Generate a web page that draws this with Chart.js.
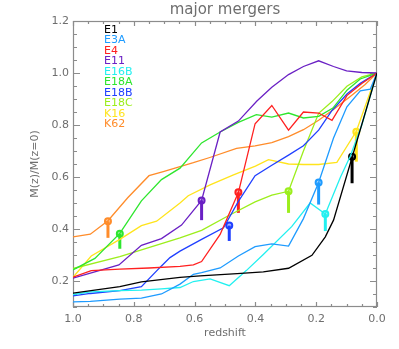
<!DOCTYPE html>
<html>
<head>
<meta charset="utf-8">
<script src="https://cdn.jsdelivr.net/npm/chart.js@4"></script>
<style>
  html, body { margin: 0; padding: 0; background: #fff; }
  canvas { display: block; }
</style>
</head>
<body>
<canvas id="chart" width="399" height="349"></canvas>
<script>
// Simulation names (legend order)
const names = ["E1", "E3A", "E4", "E11", "E16B", "E18A", "E18B", "E18C", "K16", "K62"];

// Redshift / mass ratio, one pair of arrays per run
const E1_z = [1.0, 0.846, 0.775, 0.648, 0.582, 0.46, 0.374, 0.291, 0.214, 0.17, 0.143, 0.082, 0.0];
const E1_m = [0.153, 0.178, 0.197, 0.214, 0.22, 0.228, 0.235, 0.249, 0.299, 0.37, 0.434, 0.675, 1.0];

const E3A_z = [1.0, 0.943, 0.846, 0.775, 0.709, 0.648, 0.604, 0.577, 0.516, 0.456, 0.401, 0.346, 0.291, 0.242, 0.192, 0.143, 0.099, 0.055, 0.022, 0.0];
const E3A_m = [0.12, 0.122, 0.13, 0.134, 0.15, 0.188, 0.226, 0.232, 0.25, 0.296, 0.332, 0.343, 0.334, 0.44, 0.579, 0.75, 0.87, 0.931, 0.938, 1.0];

const E4_z = [1.0, 0.94, 0.846, 0.75, 0.648, 0.604, 0.577, 0.516, 0.456, 0.401, 0.346, 0.291, 0.242, 0.192, 0.148, 0.099, 0.05, 0.0];
const E4_m = [0.215, 0.24, 0.246, 0.25, 0.256, 0.262, 0.275, 0.379, 0.54, 0.805, 0.875, 0.78, 0.85, 0.846, 0.818, 0.913, 0.96, 1.0];

const E11_z = [1.0, 0.849, 0.775, 0.709, 0.643, 0.577, 0.516, 0.456, 0.395, 0.346, 0.291, 0.242, 0.192, 0.143, 0.1, 0.05, 0.0];
const E11_m = [0.211, 0.262, 0.337, 0.363, 0.415, 0.51, 0.773, 0.815, 0.892, 0.945, 0.994, 1.025, 1.047, 1.025, 1.008, 1.002, 1.0];

const E16B_z = [1.0, 0.943, 0.846, 0.775, 0.709, 0.648, 0.604, 0.549, 0.486, 0.43, 0.374, 0.28, 0.22, 0.17, 0.12, 0.088, 0.05, 0.0];
const E16B_m = [0.148, 0.158, 0.163, 0.165, 0.17, 0.175, 0.198, 0.208, 0.182, 0.24, 0.302, 0.41, 0.5, 0.458, 0.6, 0.68, 0.8, 1.0];

const E18A_z = [1.0, 0.928, 0.846, 0.775, 0.709, 0.648, 0.577, 0.516, 0.456, 0.397, 0.346, 0.291, 0.242, 0.192, 0.145, 0.098, 0.055, 0.0];
const E18A_m = [0.243, 0.287, 0.383, 0.508, 0.59, 0.634, 0.731, 0.773, 0.81, 0.84, 0.83, 0.846, 0.827, 0.833, 0.865, 0.935, 0.977, 1.0];

const E18B_z = [1.0, 0.943, 0.846, 0.775, 0.709, 0.681, 0.648, 0.577, 0.505, 0.456, 0.401, 0.346, 0.291, 0.242, 0.192, 0.148, 0.098, 0.055, 0.0];
const E18B_m = [0.143, 0.152, 0.163, 0.178, 0.258, 0.29, 0.315, 0.36, 0.405, 0.506, 0.605, 0.645, 0.684, 0.72, 0.78, 0.856, 0.92, 0.96, 1.0];

const E18C_z = [1.0, 0.846, 0.648, 0.577, 0.489, 0.401, 0.346, 0.291, 0.242, 0.192, 0.148, 0.099, 0.05, 0.0];
const E18C_m = [0.248, 0.294, 0.366, 0.395, 0.451, 0.504, 0.53, 0.545, 0.7, 0.845, 0.89, 0.949, 0.985, 1.0];

const K16_z = [1.0, 0.94, 0.846, 0.775, 0.725, 0.648, 0.621, 0.549, 0.472, 0.4, 0.357, 0.291, 0.242, 0.192, 0.132, 0.068, 0.0];
const K16_m = [0.214, 0.296, 0.36, 0.413, 0.43, 0.5, 0.528, 0.57, 0.608, 0.642, 0.667, 0.65, 0.648, 0.648, 0.656, 0.776, 1.0];

const K62_z = [1.0, 0.943, 0.885, 0.82, 0.75, 0.703, 0.648, 0.604, 0.55, 0.462, 0.401, 0.346, 0.291, 0.242, 0.192, 0.143, 0.088, 0.04, 0.0];
const K62_m = [0.37, 0.38, 0.432, 0.52, 0.605, 0.621, 0.64, 0.655, 0.675, 0.71, 0.72, 0.732, 0.755, 0.782, 0.818, 0.86, 0.91, 0.955, 1.0];

// Merger markers (arrows), same order as names
const arrowZ = [0.082, 0.192, 0.456, 0.577, 0.17, 0.846, 0.486, 0.291, 0.068, 0.885];
const arrowTop = [0.678, 0.579, 0.541, 0.51, 0.458, 0.382, 0.413, 0.545, 0.774, 0.43];
const arrowBottom = [0.576, 0.494, 0.462, 0.434, 0.392, 0.324, 0.354, 0.462, 0.659, 0.366];

// Tick labels
const xTicks = [1.0, 0.8, 0.6, 0.4, 0.2, 0.0];
const yTicks = [0.2, 0.4, 0.6, 0.8, 1.0, 1.2];

const colors = ["#000000", "#1e9bff", "#ff2020", "#6a20c4", "#22f0f0", "#2ee62e", "#2040ff", "#9cee1c", "#ffe41c", "#ff8c2a"];
const AXIS_COLOR = "#8c8c8c";
const TEXT_COLOR = "#6e6e6e";
const FONT = "'DejaVu Sans', sans-serif";

const seriesZ = [E1_z, E3A_z, E4_z, E11_z, E16B_z, E18A_z, E18B_z, E18C_z, K16_z, K62_z];
const seriesM = [E1_m, E3A_m, E4_m, E11_m, E16B_m, E18A_m, E18B_m, E18C_m, K16_m, K62_m];

const datasets = [];
names.forEach((name, i) => {
  datasets.push({
    label: name,
    data: seriesZ[i].map((z, j) => ({ x: z, y: seriesM[i][j] })),
    borderColor: colors[i],
    borderWidth: 1.3,
    pointRadius: 0,
    tension: 0,
  });
});
// arrows drawn after the curves
names.forEach((name, i) => {
  datasets.push({
    label: name + " merger",
    data: [
      { x: arrowZ[i], y: arrowBottom[i] },
      { x: arrowZ[i], y: arrowTop[i] },
    ],
    borderColor: colors[i],
    borderWidth: 3,
    pointRadius: [0, 3],
    pointBorderWidth: 2,
    pointBorderColor: colors[i],
    pointBackgroundColor: colors[i] + "66",
    tension: 0,
  });
});

// box with inward major/minor ticks on all four sides
const boxPlugin = {
  id: "box",
  beforeDatasetsDraw(chart) {
    const { ctx, chartArea: a, scales } = chart;
    const x = scales.x;
    const y = scales.y;
    ctx.save();
    ctx.strokeStyle = AXIS_COLOR;
    ctx.lineWidth = 1.2;
    ctx.strokeRect(a.left + 0.5, a.top + 0.5, a.right - a.left - 1, a.bottom - a.top - 1);
    ctx.beginPath();
    for (let i = 0; i <= 20; i++) {
      const px = Math.round(x.getPixelForValue(i * 0.05)) + 0.5;
      const len = i % 4 === 0 ? 5 : 3;
      ctx.moveTo(px, a.bottom);
      ctx.lineTo(px, a.bottom - len);
      ctx.moveTo(px, a.top);
      ctx.lineTo(px, a.top + len);
    }
    for (let i = 2; i <= 24; i++) {
      const py = Math.round(y.getPixelForValue(i * 0.05)) + 0.5;
      const len = i % 4 === 0 ? 7 : 4;
      ctx.moveTo(a.left, py);
      ctx.lineTo(a.left + len, py);
      ctx.moveTo(a.right, py);
      ctx.lineTo(a.right - len, py);
    }
    ctx.stroke();
    ctx.restore();
  },
  afterDraw(chart) {
    // coloured names in the upper left corner
    const { ctx, chartArea: a } = chart;
    ctx.save();
    ctx.font = "11px " + FONT;
    ctx.textBaseline = "middle";
    ctx.textAlign = "left";
    names.forEach((name, i) => {
      ctx.fillStyle = colors[i];
      ctx.fillText(name, a.left + 31, a.top + 9 + i * 10.5);
    });
    ctx.restore();
  },
};

new Chart(document.getElementById("chart"), {
  type: "line",
  data: { datasets: datasets },
  options: {
    responsive: false,
    animation: false,
    layout: { padding: { left: 0, right: 22, top: 0, bottom: 0 } },
    plugins: {
      legend: { display: false },
      tooltip: { enabled: false },
      title: {
        display: true,
        text: "major mergers",
        fullSize: false,
        color: TEXT_COLOR,
        font: { family: FONT, size: 15, weight: "normal" },
        padding: { top: 1, bottom: 2 },
      },
    },
    scales: {
      x: {
        type: "linear",
        reverse: true,
        min: 0,
        max: 1,
        afterBuildTicks: (scale) => {
          scale.ticks = xTicks.map((v) => ({ value: v }));
        },
        afterFit: (scale) => {
          scale.height = 42;
        },
        grid: { display: false, drawTicks: false },
        border: { display: false },
        ticks: {
          color: TEXT_COLOR,
          font: { family: FONT, size: 11 },
          padding: 6,
          maxRotation: 0,
          autoSkip: false,
          callback: (v) => Number(v).toFixed(1),
        },
        title: {
          display: true,
          text: "redshift",
          color: TEXT_COLOR,
          font: { family: FONT, size: 11 },
          padding: { top: 0, bottom: 9 },
        },
      },
      y: {
        type: "linear",
        min: 0.1,
        max: 1.2,
        afterBuildTicks: (scale) => {
          scale.ticks = yTicks.map((v) => ({ value: v }));
        },
        afterFit: (scale) => {
          scale.width = 73;
        },
        grid: { display: false, drawTicks: false },
        border: { display: false },
        ticks: {
          color: TEXT_COLOR,
          font: { family: FONT, size: 11 },
          padding: 4,
          autoSkip: false,
          callback: (v) => Number(v).toFixed(1),
        },
        title: {
          display: true,
          text: "M(z)/M(z=0)",
          color: TEXT_COLOR,
          font: { family: FONT, size: 11 },
          padding: { top: 29, bottom: 0 },
        },
      },
    },
  },
  plugins: [boxPlugin],
});
</script>
</body>
</html>
